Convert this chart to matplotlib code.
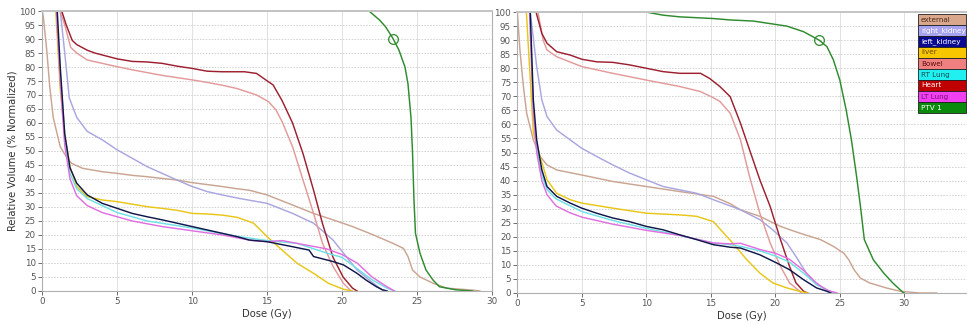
import numpy as np
import matplotlib
matplotlib.use('Agg')
import matplotlib.pyplot as plt
from matplotlib.patches import Rectangle

# structure names / colours
names = ['external', 'right_kidney', 'left_kidney', 'liver', 'Bowel',
         'RT Lung', 'Heart', 'LT Lung', 'PTV 1']
line_colors = ['#c9a592', '#a9a6e0', '#10184a', '#e8c618', '#e39a9a',
               '#6fe0e6', '#9c2030', '#e070e0', '#2e8b2e']
legend_faces = ['#d9a88c', '#a7a3f0', '#0a0a90', '#f7c600', '#f08080',
                '#22f0f0', '#c00000', '#f040f0', '#0a8a0a']
legend_text = ['#4a2a1a', '#ffffff', '#ffffff', '#6a4a00', '#5a1010',
               '#0a5050', '#ffffff', '#7a107a', '#ffffff']

# ---- plan A (left panel): dose (Gy), relative volume (%)
a_external_d = [0, 0.07, 0.3, 0.5, 0.73, 1.2, 1.6, 1.95, 2.7, 4, 5, 6, 7, 8, 9, 10, 11, 12, 13,
                13.8, 15, 16.7, 18.1, 19.4, 20.7, 22.1, 23.4, 24.1, 24.4, 24.7, 25.2, 26.1, 27, 28.7, 29.2]
a_external_v = [100, 98, 86, 73, 62, 51.5, 48, 45.6, 43.8, 42.6, 42, 41.3, 40.8, 40.2, 39.6, 38.7, 38, 37.3, 36.5,
                36, 34.3, 30.7, 27.7, 25.4, 23, 20, 17, 15.2, 12.3, 7.5, 5, 2.7, 1, 0.3, 0]
a_rkid_d = [0, 1.2, 1.5, 1.8, 2.3, 3, 4, 5, 6, 7, 8, 9, 10, 11, 12, 13.2, 15, 16.7, 18.1,
            19.4, 20.1, 21, 22.1, 22.7, 23]
a_rkid_v = [100, 100, 85, 69, 62, 57, 54, 50.4, 47.4, 44.4, 42, 39.6, 37.3, 35.5, 34.3, 33, 31.3, 27.7, 24.2,
            18.2, 13.5, 7.5, 2.7, 0.3, 0]
a_lkid_d = [0, 1.0, 1.2, 1.5, 1.85, 2.3, 3, 4, 5, 6, 7, 8, 9, 10, 11, 12, 13, 13.8, 15, 16.7,
            17.8, 18.1, 19.4, 20.1, 21, 21.6, 22.3, 22.7, 23]
a_lkid_v = [100, 100, 80, 56, 44, 38.5, 34.3, 31.3, 29.5, 27.7, 26.5, 25.4, 24.2, 23, 21.8, 20.6, 19.4, 18.2, 17.6, 15.8,
            14.6, 12.3, 10.5, 9.3, 6.3, 3.9, 1.5, 0.4, 0]
a_liver_d = [0, 0.9, 1.2, 1.5, 1.85, 2.3, 3, 4, 5, 6, 7, 8, 9, 10, 11, 12, 13, 13.8, 14.1,
             15, 16, 17, 18.1, 19.1, 20.1, 20.7]
a_liver_v = [100, 100, 72, 56, 44.4, 37.3, 33.7, 32.5, 31.9, 31, 30.1, 29.5, 28.8, 27.7, 27.5, 27.1, 26.3, 24.8, 24.2,
             19.4, 14.6, 9.9, 6.3, 2.7, 0.6, 0]
a_bowel_d = [0, 1.2, 1.5, 1.9, 2.3, 3, 4, 5, 6, 7, 8, 10, 11, 12, 13, 14.3, 15.1, 15.6, 16,
             16.7, 17.4, 18.1, 18.7, 19.4, 20.1, 20.6]
a_bowel_v = [100, 100, 95, 87, 85, 82.5, 81.3, 80.1, 79, 78, 77, 75.4, 74.5, 73.5, 72.3, 70, 67.6, 64.6, 60.5,
             51.5, 39.6, 27.7, 17, 8.7, 2.7, 0]
a_rtlung_d = [0, 0.95, 1.2, 1.5, 1.85, 2.3, 3, 5, 7, 10, 13, 15, 17, 19, 20, 21, 22, 23, 23.5]
a_rtlung_v = [100, 100, 78, 55, 42, 36.5, 33, 28, 25, 22.5, 19.5, 18, 17, 13.5, 12, 8, 4, 1, 0]
a_heart_d = [0, 1.3, 1.6, 2.0, 2.3, 3, 3.5, 4, 5, 6, 7, 8, 9, 10, 11, 12, 13.5, 14.3, 15.07,
             15.4, 16, 16.7, 17.4, 18.1, 18.7, 19.4, 20.07, 20.7, 21]
a_heart_v = [100, 100, 95, 89.5, 88, 86, 85, 84.3, 82.9, 82, 81.8, 81.3, 80.3, 79.5, 78.5, 78.3, 78.3, 77.7, 74.8,
             73.6, 68, 60, 49, 36, 24, 12, 5, 1, 0]
a_ltlung_d = [0, 0.95, 1.2, 1.5, 1.85, 2.3, 3, 4, 5, 6, 7, 8, 10, 12, 13, 14, 15, 16, 17, 18,
              19, 20, 21, 22, 23, 23.5]
a_ltlung_v = [100, 100, 75, 52, 40, 34, 30.5, 28, 26.5, 25, 24, 23, 21.5, 20, 19, 18, 17.6, 18, 17, 16,
              15, 13, 10, 5, 1.5, 0]
a_ptv_d = [0, 21.8, 22.5, 22.9, 23.4, 23.8, 24.2, 24.4, 24.6, 24.7, 24.8, 24.9, 25.2, 25.6,
           26.07, 26.5, 27.6, 28.7]
a_ptv_v = [100, 100, 96.8, 94.4, 90.2, 86, 80, 74, 62, 50, 32.5, 20.6, 13.5, 7.5,
           3.9, 1.5, 0.4, 0]

# ---- plan B (right panel)
b_external_d = [0, 0.2, 0.47, 0.72, 1.24, 1.76, 2.3, 3.05, 5, 7.4, 10, 12.6, 15.2, 16.5, 17.3,
                18.8, 20.4, 21.9, 23.5, 24.5, 25.3, 25.7, 26.1, 26.6, 27.3, 28.6, 29.7, 31.2, 32.5]
b_external_v = [100, 86.5, 73.5, 64, 54.5, 48.6, 45.6, 43.8, 42, 39.7, 37.9, 36.1, 34.4, 31.8, 29.6,
                27.3, 23.7, 21.3, 19, 16.6, 14.2, 11.8, 8.3, 5.3, 3.6, 1.8, 0.6, 0, 0]
b_rkid_d = [0, 1.0, 1.5, 1.9, 2.3, 3.05, 4.1, 5, 6.15, 7.4, 8.7, 10, 11.3, 12.6, 13.9, 15.2,
            16.5, 17.3, 18.8, 19.8, 20.9, 21.6, 22.4, 23.2, 24, 24.5]
b_rkid_v = [100, 100, 80.6, 68.7, 62.8, 58, 54.5, 51.5, 48.6, 45.6, 42.7, 40.3, 37.9, 36.7, 35.5, 33.2,
            31, 29.6, 26.1, 22.5, 17.8, 13, 7.1, 3, 1.2, 0]
b_lkid_d = [0, 1.0, 1.24, 1.5, 1.9, 2.3, 3.05, 4.1, 5, 6.15, 7.4, 8.7, 10, 11.3, 12.6, 13.9,
            15.2, 16.5, 17.3, 18.8, 20.1, 21.1, 22.2, 23.2, 24, 24.3]
b_lkid_v = [100, 100, 68.7, 54.5, 43.8, 37.9, 34.4, 32, 30.2, 28.4, 26.7, 25.4, 23.7, 22.5, 20.7, 19,
            17.2, 16.3, 16, 13.6, 10.7, 8.3, 4.7, 1.8, 0.6, 0]
b_liver_d = [0, 0.7, 1.24, 1.76, 2.3, 3.05, 4.1, 5, 7.4, 10, 12.6, 13.9, 15.2, 16, 16.7,
             17.8, 18.8, 19.8, 20.9, 21.9, 22.5]
b_liver_v = [100, 100, 57, 48.6, 40.3, 35.5, 33.2, 32, 30.2, 28.4, 27.8, 27.3, 25.4, 21.3, 17.8,
             11.8, 7.1, 3.6, 1.8, 0.6, 0]
b_bowel_d = [0, 1.6, 2.0, 2.3, 3.05, 5, 7.4, 10, 12.6, 14.2, 15.2, 15.7, 16.5, 17.3, 18,
             18.8, 19.6, 20.4, 21.1, 21.9, 22]
b_bowel_v = [100, 100, 90, 86.5, 84.1, 80.6, 78.2, 75.8, 73.5, 71.7, 69.5, 68.2, 64, 54.5, 41.5,
             28.4, 17.8, 9.5, 3.6, 0.6, 0]
b_rtlung_d = [0, 0.95, 1.24, 1.5, 1.9, 2.3, 3, 5, 7.4, 10, 12.6, 15.2, 16.5, 17.3, 18.8, 20.1,
              21.1, 22.2, 23.2, 24, 24.6]
b_rtlung_v = [100, 100, 66, 52, 42, 36.8, 33.5, 29, 25.8, 23, 20.5, 17.8, 17.2, 16.6, 15, 13,
              11, 7, 3, 1, 0]
b_heart_d = [0, 1.45, 1.9, 2.3, 3.05, 4.1, 5, 6.15, 7.4, 8.7, 10, 11.3, 12.6, 14.2, 14.9, 15.7,
             16.5, 17.3, 18, 18.8, 19.6, 20.4, 21.1, 21.6, 22.2, 22.5]
b_heart_v = [100, 100, 92.4, 88.9, 85.9, 84.7, 83.2, 82.3, 82.1, 81.2, 80, 78.8, 78.2, 78.2, 76.4, 73.5,
             69.9, 60.4, 51, 40.3, 30.8, 19, 9.5, 3.6, 0.6, 0]
b_ltlung_d = [0, 0.95, 1.24, 1.5, 1.9, 2.3, 3, 4, 5, 7.4, 10, 12.6, 15.2, 16.5, 17.3, 18.8,
              20.1, 21.1, 22.2, 23.2, 24, 24.8]
b_ltlung_v = [100, 100, 64, 50, 40, 35, 31, 28.7, 27, 24.5, 22.3, 20.5, 17.8, 17.5, 17.7, 15.5,
              14, 12, 8, 3.5, 1, 0]
b_ptv_d = [0, 10, 11.3, 12.6, 15.2, 16.5, 18.3, 19.6, 20.9, 22.2, 23.4, 24.0, 24.5, 25.0, 25.5,
           25.9, 26.3, 26.6, 26.9, 27.6, 28.4, 29.1, 29.9, 30]
b_ptv_v = [100, 100, 98.9, 98.3, 97.7, 97.2, 96.8, 95.9, 95, 93, 90, 87.7, 83, 75.8, 65,
           54.5, 41.5, 30.8, 19, 11.8, 7.1, 3.6, 0.2, 0]

plan_a = [(a_external_d, a_external_v), (a_rkid_d, a_rkid_v), (a_lkid_d, a_lkid_v),
          (a_liver_d, a_liver_v), (a_bowel_d, a_bowel_v), (a_rtlung_d, a_rtlung_v),
          (a_heart_d, a_heart_v), (a_ltlung_d, a_ltlung_v), (a_ptv_d, a_ptv_v)]
plan_b = [(b_external_d, b_external_v), (b_rkid_d, b_rkid_v), (b_lkid_d, b_lkid_v),
          (b_liver_d, b_liver_v), (b_bowel_d, b_bowel_v), (b_rtlung_d, b_rtlung_v),
          (b_heart_d, b_heart_v), (b_ltlung_d, b_ltlung_v), (b_ptv_d, b_ptv_v)]

# PTV reference point (circle marker)
ref_dose = 23.4
ref_vol = 90

fig = plt.figure(figsize=(9.67, 3.24), dpi=100)
ax1 = fig.add_axes([0.0437, 0.102, 0.465, 0.864])
ax2 = fig.add_axes([0.535, 0.0957, 0.465, 0.867])

# draw order: put the lungs / kidney / liver on top of the wide curves
order = [0, 1, 4, 6, 3, 5, 7, 2, 8]


def setup(ax, xmax, ylabel):
    ax.set_ylim(0, 100)
    ax.set_xticks(np.arange(0, 36, 5))
    ax.set_yticks(np.arange(0, 101, 5))
    ax.set_xlim(0, xmax)
    ax.xaxis.grid(True, color='#dcdcdc', lw=0.6, ls='-')
    ax.yaxis.grid(True, color='#d0d0d0', lw=0.7, ls=(0, (1.5, 1.5)))
    ax.set_axisbelow(True)
    for s in ax.spines.values():
        s.set_color('#b0b0b0')
        s.set_linewidth(0.8)
        s.set_zorder(5)
    ax.spines['top'].set_color('#c4c4c4')
    ax.spines['top'].set_linewidth(1.4)
    ax.tick_params(labelsize=6.3, colors='#555555', length=3, width=0.6, pad=1.5)
    ax.set_xlabel('Dose (Gy)', fontsize=7.2, color='#333333', labelpad=2)
    if ylabel:
        ax.set_ylabel('Relative Volume (% Normalized)', fontsize=7.2, color='#333333')
        ax.yaxis.set_label_coords(-0.056, 0.5)


for ax, plan, xmax, yl in [(ax1, plan_a, 30, True), (ax2, plan_b, 34.86, False)]:
    setup(ax, xmax, yl)
    for i in order:
        d, v = plan[i]
        ax.plot(d, v, color=line_colors[i], lw=1.05, solid_joinstyle='round')
    ax.plot([ref_dose], [ref_vol], 'o', mfc='none', mec='#2e8b2e', ms=7, mew=0.9)

ax2.spines['right'].set_visible(False)

# legend boxes (right panel, top right corner)
lx0, lx1 = 918 / 967, 966 / 967
ly_top = 1 - 14 / 324
row_h = 11 / 324
for k, name in enumerate(names):
    y0 = ly_top - (k + 1) * row_h
    fig.add_artist(Rectangle((lx0, y0), lx1 - lx0, row_h, transform=fig.transFigure,
                             facecolor=legend_faces[k], edgecolor='#202020', lw=0.6))
    fig.text(lx0 + 0.003, y0 + row_h / 2, name, fontsize=5.2, color=legend_text[k],
             va='center', ha='left')

fig.savefig('out.png', dpi=100, facecolor='white')
